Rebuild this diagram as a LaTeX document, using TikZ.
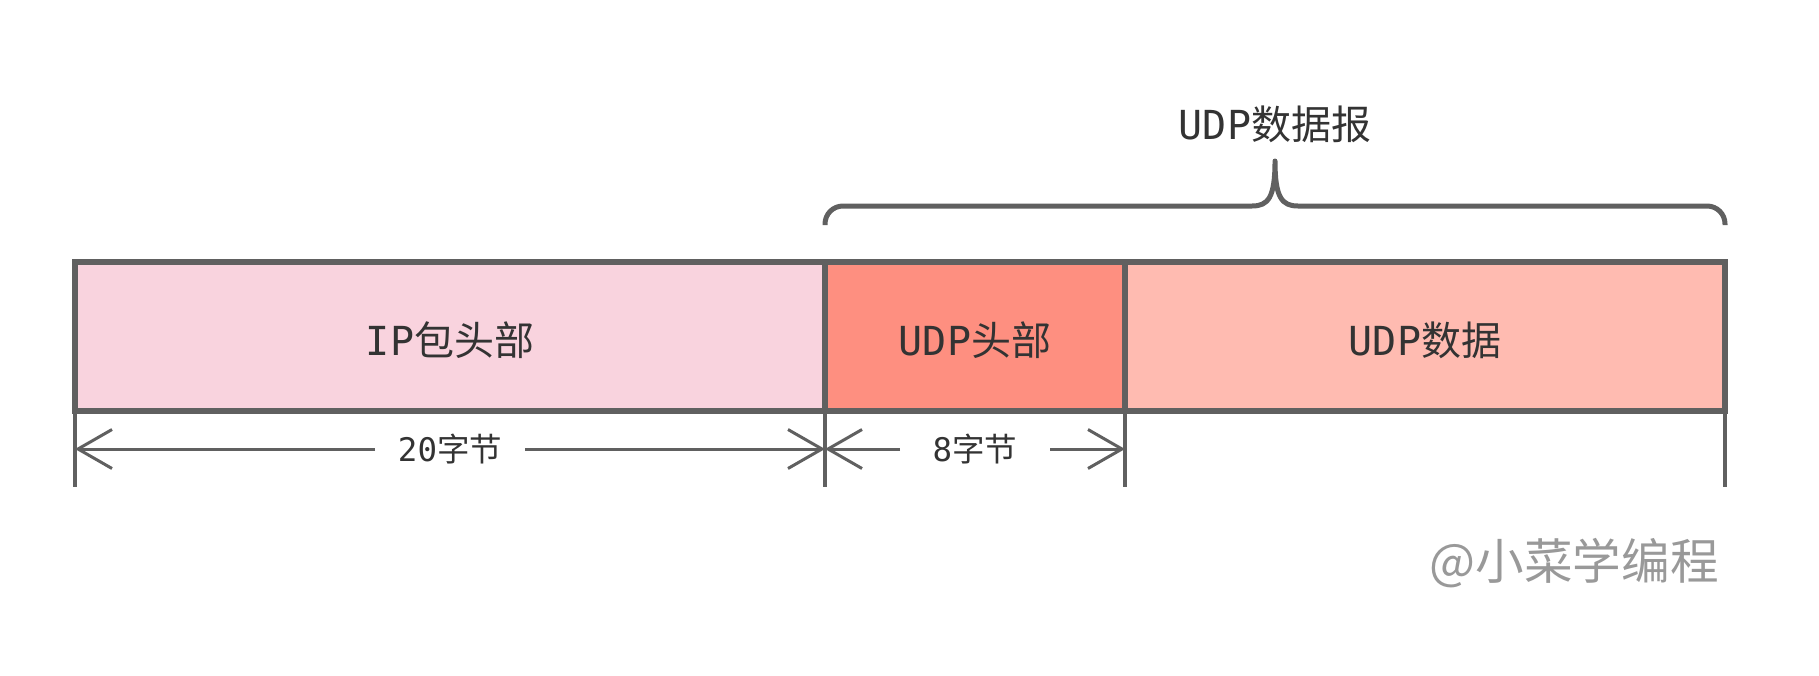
\documentclass[tikz,border=0pt]{standalone}
\usepackage{fontspec}
\usetikzlibrary{arrows.meta}
\setmainfont{DejaVu Sans Mono}
\newfontfamily\cjk{Noto Sans CJK SC}
\newfontfamily\lat{DejaVu Sans Mono}
\definecolor{linec}{HTML}{606060}
\definecolor{txt}{HTML}{333333}
\definecolor{ipc}{HTML}{F9D3DE}
\definecolor{hdc}{HTML}{FE8F80}
\definecolor{dtc}{HTML}{FFBBB1}
\definecolor{wmc}{HTML}{999999}
\begin{document}
\begin{tikzpicture}[x=0.5pt,y=-0.5pt,
  seg/.style={draw=linec, line width=3pt, minimum height=74.5pt, inner sep=0pt, outer sep=0pt},
  seglabel/.style={text=txt, font=\fontsize{20pt}{24pt}\selectfont, inner sep=0pt},
  ext/.style={draw=linec, line width=1.75pt},
  dim/.style={draw=linec, line width=1.5pt, -{Straight Barb[length=17pt,width=19.5pt]}},
  dimlabel/.style={text=txt, font=\fontsize{16.25pt}{19pt}\selectfont, inner sep=0pt},
  bracestyle/.style={draw=linec, line width=2.5pt, line join=round}]
\useasboundingbox (0,0) rectangle (1819,675);
% segments
\node[seg, fill=ipc, minimum width=375pt] (ip) at (450,336.5) {};
\node[seg, fill=hdc, minimum width=150pt] (hd) at (975,336.5) {};
\node[seg, fill=dtc, minimum width=300pt] (dt) at (1425,336.5) {};
\node[seglabel] (iplab) at ([yshift=-1.75pt]ip.center) {\lat IP\cjk 包头部};
\node[seglabel] (hdlab) at ([yshift=-1.75pt]hd.center) {\lat UDP\cjk 头部};
\node[seglabel] (dtlab) at ([yshift=-1.75pt]dt.center) {\lat UDP\cjk 数据};
% extension lines
\coordinate (e0) at (75,487);
\coordinate (e1) at (825,487);
\coordinate (e2) at (1125,487);
\coordinate (e3) at (1725,487);
\draw[ext] (ip.south west) -- (e0);
\draw[ext] (ip.south east) -- (e1);
\draw[ext] (hd.south east) -- (e2);
\draw[ext] (dt.south east) -- (e3);
% dimension labels
\node[dimlabel] (l20) at (450,449) {\lat 20\cjk 字节};
\node[dimlabel] (l8) at (975,449) {\lat 8\cjk 字节};
\coordinate (a0) at (375,449);
\coordinate (a1) at (525,449);
\coordinate (b0) at (900,449);
\coordinate (b1) at (1050,449);
\draw[dim] (a0) -- (e0 |- l20);
\draw[dim] (a1) -- (e1 |- l20);
\draw[dim] (b0) -- (e1 |- l8);
\draw[dim] (b1) -- (e2 |- l8);
% brace
\coordinate (br0) at (825,225);
\coordinate (br1) at (1725,225);
\coordinate (peak) at (1275,161);
\draw[bracestyle] (br0) -- (825,224) .. controls (825,214) and (833,206) .. (843,206)
  -- (1252,206) .. controls (1268,206) and (1275,198) .. (peak)
  .. controls (1275,198) and (1282,206) .. (1298,206)
  -- (1707,206) .. controls (1717,206) and (1725,214) .. (1725,224) -- (br1);
\node[text=txt, font=\fontsize{20pt}{24pt}\selectfont, inner sep=0pt] (title) at (1275,124) {\lat UDP\cjk 数据报};
% watermark
\node[anchor=east, text=wmc, font=\cjk\fontsize{24.3pt}{28pt}\selectfont, inner sep=0pt] (wm) at (1719,563) {@小菜学编程};
\end{tikzpicture}
\end{document}
